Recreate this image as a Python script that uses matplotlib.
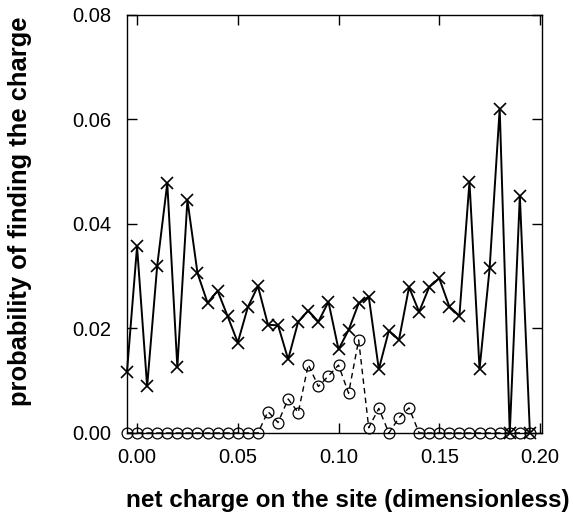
import numpy as np
import matplotlib
matplotlib.use("Agg")
import matplotlib.pyplot as plt

plt.rcParams['font.family'] = ['Liberation Sans', 'DejaVu Sans']

charge = [-0.005, 0.000, 0.005, 0.010, 0.015, 0.020, 0.025, 0.030, 0.035, 0.040,
          0.045, 0.050, 0.055, 0.060, 0.065, 0.070, 0.075, 0.080, 0.085, 0.090,
          0.095, 0.100, 0.105, 0.110, 0.115, 0.120, 0.125, 0.130, 0.135, 0.140,
          0.145, 0.150, 0.155, 0.160, 0.165, 0.170, 0.175, 0.180, 0.185, 0.190,
          0.195]

prob_cross = [0.0117, 0.0357, 0.0089, 0.0320, 0.0478, 0.0126, 0.0446, 0.0306, 0.0249, 0.0272,
              0.0223, 0.0173, 0.0241, 0.0281, 0.0207, 0.0206, 0.0141, 0.0213, 0.0234, 0.0213,
              0.0251, 0.0160, 0.0197, 0.0248, 0.0261, 0.0122, 0.0196, 0.0178, 0.0279, 0.0232,
              0.0279, 0.0296, 0.0242, 0.0224, 0.0481, 0.0122, 0.0315, 0.0621, 0.0000, 0.0454,
              0.0000]

prob_circle = [0.0, 0.0, 0.0, 0.0, 0.0, 0.0, 0.0, 0.0, 0.0, 0.0,
               0.0, 0.0, 0.0, 0.0, 0.0041, 0.0020, 0.0065, 0.0039, 0.0131, 0.0089,
               0.0109, 0.0130, 0.0076, 0.0178, 0.0010, 0.0047, 0.0000, 0.0029, 0.0048, 0.0,
               0.0, 0.0, 0.0, 0.0, 0.0, 0.0, 0.0, 0.0, 0.0, 0.0,
               0.0]

xticks = [0.00, 0.05, 0.10, 0.15, 0.20]
xticklabels = ["0.00", "0.05", "0.10", "0.15", "0.20"]
yticks = [0.00, 0.02, 0.04, 0.06, 0.08]
yticklabels = ["0.00", "0.02", "0.04", "0.06", "0.08"]

fig = plt.figure(figsize=(5.73, 5.13), dpi=100)
ax = fig.add_axes([0.2216, 0.156, 0.9459 - 0.2216, 0.9708 - 0.156])

ax.plot(charge, prob_circle, linestyle=(0, (4, 3)), color='black', linewidth=1.0,
        marker='o', markersize=7.8, markerfacecolor='none', markeredgecolor='black',
        markeredgewidth=0.9, clip_on=False, zorder=3)
ax.plot(charge, prob_cross, linestyle='-', color='black', linewidth=1.4,
        marker='x', markersize=8.3, markeredgewidth=1.2, clip_on=False, zorder=4)

ax.set_xlim(-0.005, 0.201)
ax.set_ylim(0.0, 0.08)
ax.set_xticks(xticks)
ax.set_xticklabels(xticklabels)
ax.set_yticks(yticks)
ax.set_yticklabels(yticklabels)
ax.tick_params(direction='in', length=7, width=1.0, top=True, right=True,
               labelsize=14.5, pad=11)
for s in ax.spines.values():
    s.set_linewidth(1.0)

ax.set_xlabel("net charge on the site (dimensionless)", fontsize=17.5, fontweight='bold')
ax.set_ylabel("probability of finding the charge", fontsize=18.4, fontweight='bold')
ax.xaxis.set_label_coords(0.533, -0.134)
ax.yaxis.set_label_coords(-0.228, 0.531)

fig.savefig("out.png", dpi=100)
